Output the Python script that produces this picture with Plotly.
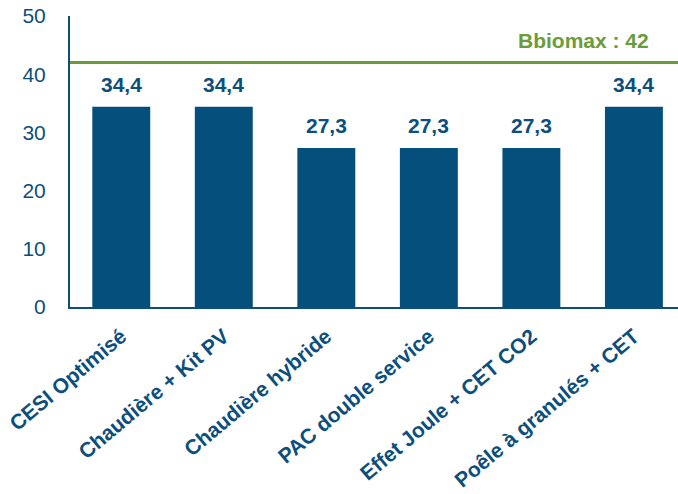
import plotly.graph_objects as go

# Data
categories = [
    "CESI Optimisé",
    "Chaudière + Kit PV",
    "Chaudière hybride",
    "PAC double service",
    "Effet Joule + CET CO2",
    "Poêle à granulés + CET",
]
bbio_values = [34.4, 34.4, 27.3, 27.3, 27.3, 34.4]
bbiomax = 42
y_ticks = [0, 10, 20, 30, 40, 50]

BLUE = "#044f7b"
TEXT_BLUE = "#0d4f7c"
GREEN = "#6a9c3a"
FONT = "Liberation Sans"

PLOT_LEFT, PLOT_RIGHT = 70, 678

fig = go.Figure()
fig.add_trace(go.Bar(
    x=categories,
    y=bbio_values,
    width=0.565,
    marker=dict(color=BLUE, line=dict(width=0)),
    hoverinfo="skip",
))

# Value labels above each bar
for cat, val in zip(categories, bbio_values):
    fig.add_annotation(
        x=cat, y=val, xref="x", yref="y",
        text=f"{val:.1f}".replace(".", ","),
        showarrow=False, yanchor="bottom", yshift=9,
        font=dict(family=FONT, size=21, color=TEXT_BLUE, weight="bold"),
    )

# Bbiomax threshold line and its label
fig.add_shape(
    type="line", xref="paper", yref="y",
    x0=0, x1=1, y0=bbiomax, y1=bbiomax,
    line=dict(color=GREEN, width=3),
)
fig.add_annotation(
    x=(651 - PLOT_LEFT) / (PLOT_RIGHT - PLOT_LEFT), xref="paper",
    y=bbiomax, yref="y",
    text=f"Bbiomax : {bbiomax}",
    showarrow=False, xanchor="right", yanchor="bottom", yshift=9,
    font=dict(family=FONT, size=21, color=GREEN, weight="bold"),
)

fig.update_layout(
    width=678, height=494,
    margin=dict(l=PLOT_LEFT, r=678 - PLOT_RIGHT, t=16, b=187, autoexpand=False),
    paper_bgcolor="white", plot_bgcolor="white",
    showlegend=False,
)
fig.update_xaxes(
    range=[-0.5, 5.43],
    tickangle=-40,
    tickfont=dict(family=FONT, size=21, color=TEXT_BLUE, weight="bold"),
    showline=True, linecolor=TEXT_BLUE, linewidth=2,
    showgrid=False, ticks="", ticklabelstandoff=7, automargin=False,
)
fig.update_yaxes(
    range=[0, 50],
    tickvals=y_ticks,
    tickfont=dict(family=FONT, size=21, color=TEXT_BLUE),
    showline=True, linecolor=TEXT_BLUE, linewidth=2,
    showgrid=False, zeroline=False, ticks="", ticklabelstandoff=18, automargin=False,
)

fig.write_html("out.html")
